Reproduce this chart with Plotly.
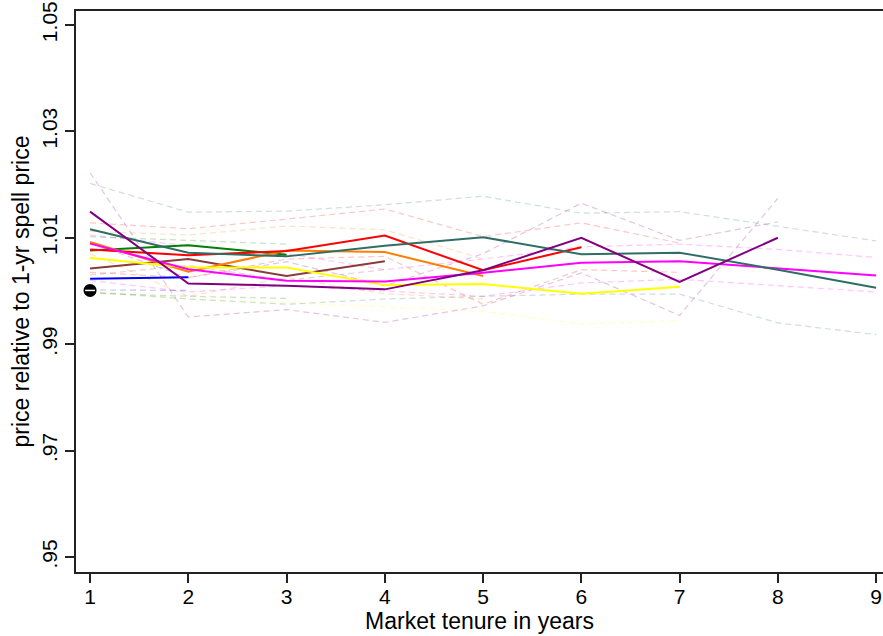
import plotly.graph_objects as go

# Market tenure in years
tenure = [1, 2, 3, 4, 5, 6, 7, 8, 9]

# Solid (highlighted) series: price relative to 1-yr spell price
s_purple = [1.0149, 1.0014, 1.0010, 1.0003, 1.0039, 1.0100, 1.0017, 1.0100]
s_teal = [1.0116, 1.0072, 1.0065, 1.0085, 1.0101, 1.0069, 1.0072, 1.0040, 1.0006]
s_green = [1.0076, 1.0086, 1.0068]
s_red = [1.0078, 1.0067, 1.0075, 1.0104, 1.0039, 1.0082]
s_orange = [1.0092, 1.0036, 1.0076, 1.0073, 1.0028]
s_yellow = [1.0062, 1.0044, 1.0044, 1.0011, 1.0013, 0.9995, 1.0008]
s_magenta = [1.0089, 1.0041, 1.0019, 1.0018, 1.0034, 1.0053, 1.0056, 1.0042, 1.0029]
s_brown = [1.0042, 1.0060, 1.0028, 1.0056]
s_blue = [1.0023, 1.0026]

# Faint dashed background series
d_teal1 = [1.0202, 1.0148, 1.0150, 1.0162, 1.0178, 1.0146, 1.0149, 1.0122, 1.0094]
d_violet1 = [1.0222, 0.9951, 0.9965, 0.9941, 0.9972, 1.0034, 0.9954, 1.0174]
d_violet2 = [1.0090, 1.0025, 1.0055, 1.0010, 1.0070, 1.0165, 1.0095, 1.0130]
d_red1 = [1.0128, 1.0117, 1.0135, 1.0154, 1.0102, 1.0128, 1.0090]
d_red2 = [1.0035, 1.0025, 1.0060, 1.0065, 0.9975, 1.0040, 1.0035]
d_orange1 = [1.0112, 1.0105, 1.0122, 1.0115, 1.0060]
d_orange2 = [1.0070, 0.9990, 1.0025, 0.9995, 0.9985]
d_pink1 = [1.0105, 1.0085, 1.0070, 1.0040, 1.0060, 1.0083, 1.0088, 1.0078, 1.0063]
d_pink2 = [1.0020, 0.9998, 1.0010, 1.0000, 0.9990, 1.0015, 1.0022, 1.0010, 0.9998]
d_yellow1 = [1.0000, 0.9985, 0.9978, 0.9970, 0.9962, 0.9938, 0.9944]
d_blue1 = [1.0002, 1.0001]
d_green1 = [1.0102, 1.0095, 1.0088]
d_green2 = [0.9996, 0.9990, 0.9986]
d_brown1 = [1.0030, 1.0048, 1.0020, 1.0040]
d_teal2 = [0.9998, 0.9985, 0.9975, 0.9985, 0.9990, 0.9994, 0.9994, 0.9940, 0.9918]

# Baseline point
base_x = [1]
base_y = [1.0001]

y_ticks = [0.95, 0.97, 0.99, 1.01, 1.03, 1.05]
y_ticklabels = [".95", ".97", ".99", "1.01", "1.03", "1.05"]
x_ticks = [1, 2, 3, 4, 5, 6, 7, 8, 9]

C = {
    "purple": "#800080", "teal": "#2f6e64", "green": "#008000", "red": "#ff0000",
    "orange": "#ff7f00", "yellow": "#ffff00", "magenta": "#ff00ff",
    "brown": "#8b3a3a", "blue": "#0000ff",
}

fig = go.Figure()

dashed = [
    (d_teal1, "teal"), (d_violet1, "purple"), (d_violet2, "purple"),
    (d_red1, "red"), (d_red2, "red"), (d_orange1, "orange"), (d_orange2, "orange"),
    (d_pink1, "magenta"), (d_pink2, "magenta"), (d_yellow1, "yellow"),
    (d_blue1, "blue"), (d_green1, "green"), (d_green2, "green"),
    (d_brown1, "brown"), (d_teal2, "teal"),
]
for vals, c in dashed:
    fig.add_trace(go.Scatter(
        x=tenure[:len(vals)], y=vals, mode="lines", opacity=0.22,
        line=dict(color=C[c], width=1.2, dash="6px,4px"),
        hoverinfo="skip", showlegend=False))

solid = [
    (s_blue, "blue"), (s_brown, "brown"), (s_green, "green"), (s_orange, "orange"),
    (s_yellow, "yellow"), (s_red, "red"), (s_magenta, "magenta"),
    (s_teal, "teal"), (s_purple, "purple"),
]
for vals, c in solid:
    fig.add_trace(go.Scatter(
        x=tenure[:len(vals)], y=vals, mode="lines",
        line=dict(color=C[c], width=2), showlegend=False))

fig.add_trace(go.Scatter(
    x=base_x, y=base_y, mode="markers",
    marker=dict(symbol="circle", size=13, color="black"), showlegend=False))
fig.add_trace(go.Scatter(
    x=base_x, y=base_y, mode="markers",
    marker=dict(symbol="line-ew", size=7, line=dict(color="white", width=1.5)),
    showlegend=False))

font_family = "Liberation Sans, Arial, Helvetica, sans-serif"

fig.update_layout(
    width=883, height=636,
    margin=dict(l=76, r=0, t=11, b=64),
    paper_bgcolor="white", plot_bgcolor="white",
    font=dict(family=font_family, color="black", size=21),
    xaxis=dict(
        range=[0.857, 9.07], tickvals=x_ticks, ticktext=[str(v) for v in x_ticks],
        showgrid=False, zeroline=False, showline=True, linecolor="#222",
        linewidth=2, mirror=True, ticks="outside", ticklen=9, tickwidth=1.5,
        tickcolor="#222", tickfont=dict(size=21), ticklabelstandoff=-4,
        title=dict(text="Market tenure in years", font=dict(size=23), standoff=0),
    ),
    yaxis=dict(
        range=[0.9472, 1.0526], tickvals=y_ticks, ticktext=y_ticklabels,
        showgrid=False, zeroline=False, showline=True, linecolor="#222",
        linewidth=2, ticks="outside", ticklen=9, tickwidth=1.5, tickcolor="#222",
        tickangle=-90, tickfont=dict(size=21), ticklabeloverflow="allow",
        title=dict(text="price relative to 1-yr spell price", font=dict(size=23), standoff=2),
    ),
)

fig.write_html("out.html")
